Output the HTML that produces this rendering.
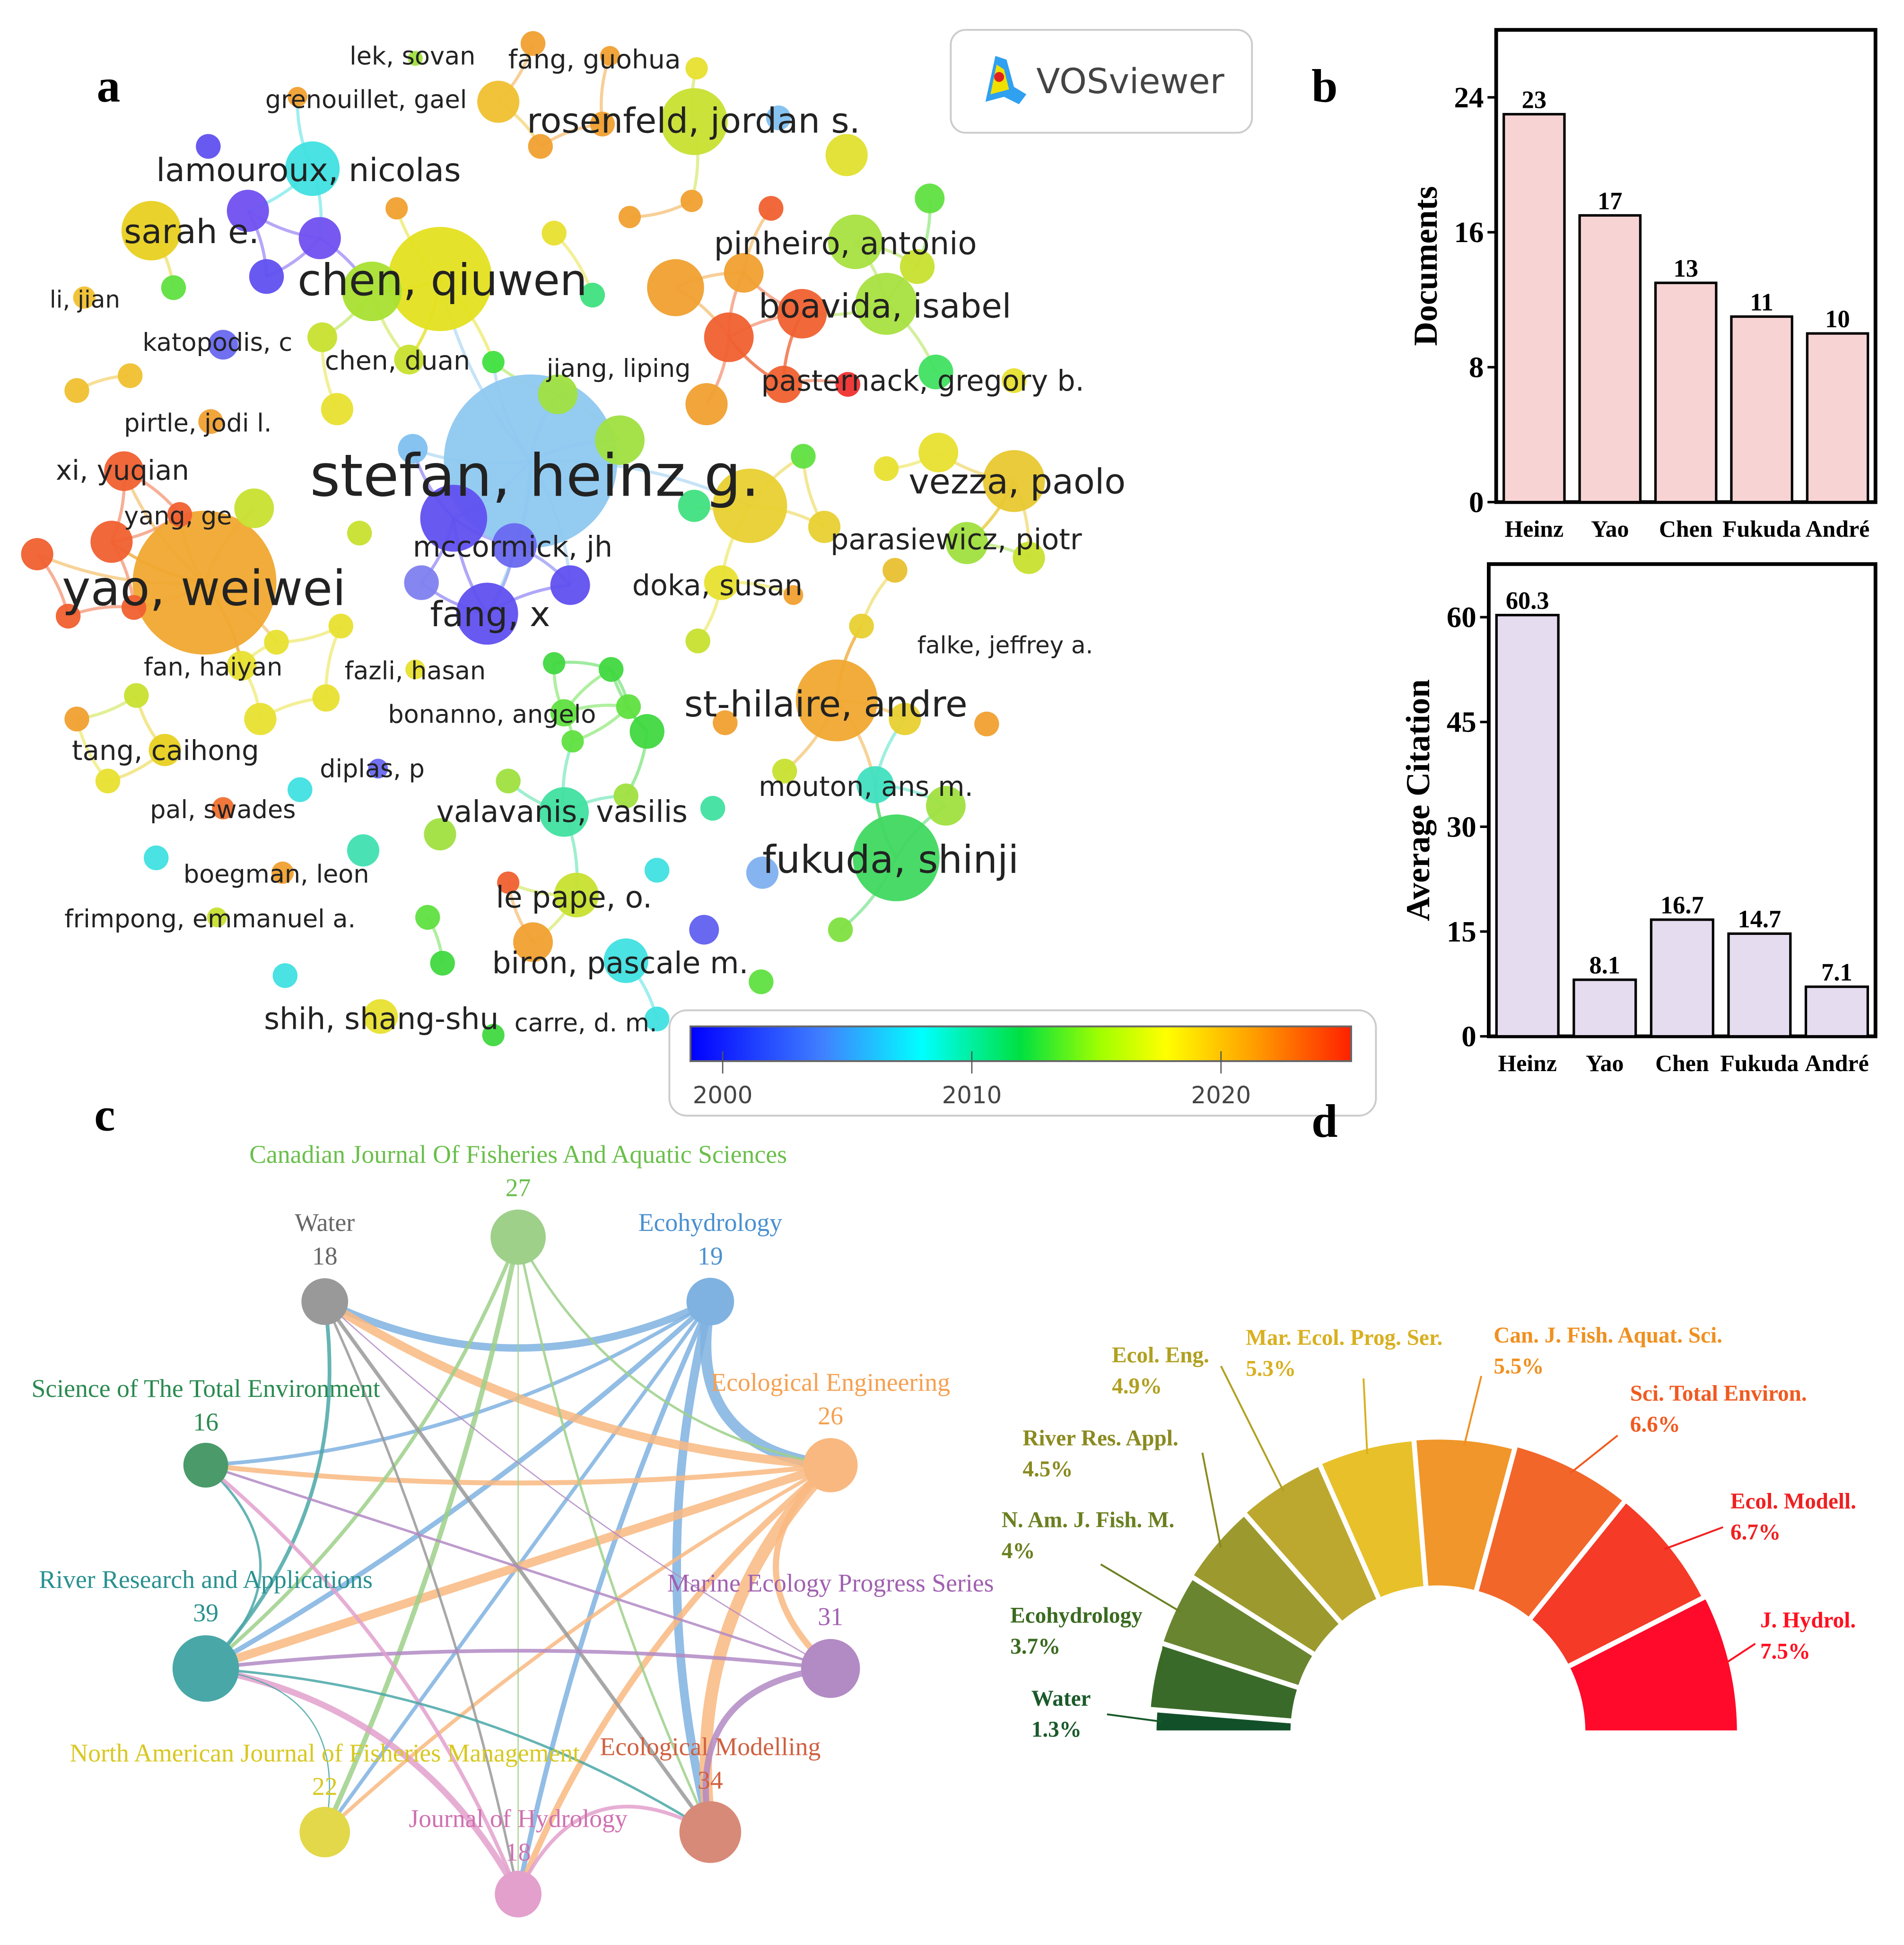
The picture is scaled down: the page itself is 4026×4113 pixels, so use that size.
<!DOCTYPE html>
<html><head><meta charset="utf-8">
<style>
html,body{margin:0;padding:0;background:#fff;}
svg{display:block;}
.sans{font-family:"DejaVu Sans","Liberation Sans",sans-serif;}
.serif{font-family:"Liberation Serif",serif;}
</style></head>
<body>
<svg id="root" width="4026" height="4113" viewBox="0 0 1536 1569" xmlns="http://www.w3.org/2000/svg">
<defs>
<linearGradient id="cb" x1="0" x2="1" y1="0" y2="0">
<stop offset="0" stop-color="#0000ff"/><stop offset="0.2" stop-color="#4080ff"/><stop offset="0.35" stop-color="#00ffff"/><stop offset="0.5" stop-color="#00e040"/><stop offset="0.62" stop-color="#a0ff00"/><stop offset="0.72" stop-color="#ffff00"/><stop offset="0.85" stop-color="#ffa000"/><stop offset="1" stop-color="#ff2000"/>
</linearGradient>
</defs>
<g id="net"></g>
<g id="netlab"></g>
<g>
<rect x="767" y="24" width="243" height="83" rx="12" fill="#fff" stroke="#ccc" stroke-width="1.5"/>
<path d="M795 82 L803 45 L812 48 L818 70 L828 76 L822 84 L810 78 Z" fill="#30a0f0"/>
<path d="M799 76 L804 52 L810 56 L814 72 Z" fill="#f0e000"/>
<circle cx="806" cy="62" r="4" fill="#e02020"/>
<text x="836" y="75" class="sans" font-size="28" fill="#444">VOSviewer</text>
</g>
<g>
<rect x="540" y="815" width="570" height="85" rx="14" fill="#fff" stroke="#ccc" stroke-width="1.5"/>
<rect x="557" y="828" width="533" height="28" fill="url(#cb)" stroke="#666" stroke-width="1.5"/>
<line x1="583" y1="848" x2="583" y2="866" stroke="#555"/><line x1="784" y1="848" x2="784" y2="866" stroke="#555"/><line x1="985" y1="848" x2="985" y2="866" stroke="#555"/>
<text x="583" y="890" text-anchor="middle" class="sans" font-size="19" fill="#444">2000</text>
<text x="784" y="890" text-anchor="middle" class="sans" font-size="19" fill="#444">2010</text>
<text x="985" y="890" text-anchor="middle" class="sans" font-size="19" fill="#444">2020</text>
</g>
<g id="bars1"></g>
<g id="bars2"></g>
<g id="chord"></g>
<g id="donut"></g>
<g class="serif" font-weight="bold" font-size="38">
<text x="78" y="82">a</text>
<text x="1058" y="82">b</text>
<text x="76" y="912">c</text>
<text x="1058" y="917">d</text>
</g>
</svg>
<script>
const NS="http://www.w3.org/2000/svg";
function mk(tag,attrs,parent){const e=document.createElementNS(NS,tag);for(const k in attrs)e.setAttribute(k,attrs[k]);parent.appendChild(e);return e;}

// ---------- Panel b data ----------
const authors=["Heinz","Yao","Chen","Fukuda","André"];
const documents=[23,17,13,11,10];
const avgCitation=[60.3,8.1,16.7,14.7,7.1];
const docTicks=[0,8,16,24];
const citTicks=[0,15,30,45,60];

function barChart(g,vals,ticks,vmax,box,fill,ylabel,fmt){
  const [x0,y0,x1,y1]=box;
  const ys=v=>y1-(v/vmax)*(y1-y0);
  const r=mk('rect',{x:x0,y:y0,width:x1-x0,height:y1-y0,fill:'none',stroke:'#000','stroke-width':3},g);
  
  
  ticks.forEach(t=>{
    const l=mk('line',{x1:x0-7,x2:x0,y1:ys(t),y2:ys(t),stroke:'#000','stroke-width':2},g);
    
    
    const tx=mk('text',{x:x0-10,y:ys(t)+8,'text-anchor':'end','font-size':24,'font-weight':'bold','class':'serif'},g);
    tx.textContent=t;
    
    
  });
  const n=vals.length, step=(x1-x0)/n, bw=step*0.8;
  vals.forEach((v,i)=>{
    const bx=x0+step*i+(step-bw)/2;
    const b=mk('rect',{x:bx,y:ys(v),width:bw,height:y1-ys(v),fill:fill,stroke:'#000','stroke-width':2},g);
    
    
    const vt=mk('text',{x:bx+bw/2,y:ys(v)-5,'text-anchor':'middle','font-size':20,'font-weight':'bold','class':'serif'},g);
    vt.textContent=fmt(v);
    
    
    const ct=mk('text',{x:bx+bw/2,y:y1+28,'text-anchor':'middle','font-size':19,'font-weight':'bold','class':'serif'},g);
    ct.textContent=authors[i];
    
    
  });
  const cy=(y0+y1)/2;
  const yl=mk('text',{x:0,y:0,transform:`translate(${x0-48},${cy}) rotate(-90)`,'text-anchor':'middle','font-size':27,'font-weight':'bold','class':'serif'},g);
  yl.textContent=ylabel;
  
  
}
barChart(document.getElementById('bars1'),documents,docTicks,28,[1207,24,1513,405],'#f7d3d3','Documents',v=>v);
barChart(document.getElementById('bars2'),avgCitation,citTicks,67.6,[1201,455,1513,836],'#e5dcef','Average Citation',v=>v.toFixed(1));

// ---------- Panel c ----------
const journals=["Canadian Journal Of Fisheries And Aquatic Sciences","Water","Ecohydrology","Science of The Total Environment","Ecological Engineering","River Research and Applications","Marine Ecology Progress Series","North American Journal of Fisheries Management","Ecological Modelling","Journal of Hydrology"];
const journalCounts=[27,18,19,16,26,39,31,22,34,18];
const jColors=['#9ed08a','#999999','#7fb2e0','#4a9a6a','#f9b880','#4aa7a7','#b28ac4','#e3d84a','#d88a78','#e3a0cc'];
const jTextColors=['#6abf4b','#666666','#4a90d0','#2a8a50','#f5a050','#2a9090','#a060b0','#d8c820','#d06040','#d070b0'];
const jPos=[[418,998],[262,1050],[573,1050],[166,1182],[670,1182],[166,1346],[670,1346],[262,1478],[573,1478],[418,1528]];
const jLabPos=[[418,938],[262,993],[573,993],[166,1127],[670,1122],[166,1281],[670,1284],[262,1421],[573,1416],[418,1474]];
const links=[[2,1,6],[2,3,3],[2,5,4],[2,7,3],[2,8,7],[2,4,9],[2,9,4],
[4,1,7],[4,3,4],[4,5,7],[4,7,3],[4,8,10],[4,9,5],[4,6,5],
[0,7,4],[0,5,3],[0,8,2],[0,4,2],[0,9,1],
[5,3,2],[5,1,3],[1,8,3],[1,9,2],
[6,5,3],[6,3,2],[6,1,1],[6,8,5],
[9,5,5],[9,3,3],[9,8,3],[5,7,1],[5,8,2]];
const chord=document.getElementById('chord');
const ccx=418, ccy=1264;
links.forEach(([a,b,w])=>{
  const A=jPos[a],B=jPos[b];
  const mx=(A[0]+B[0])/2, my=(A[1]+B[1])/2;
  const qx=mx+(ccx-mx)*0.35, qy=my+(ccy-my)*0.35;
  const p=mk('path',{d:`M${A[0]} ${A[1]} Q${qx} ${qy} ${B[0]} ${B[1]}`,fill:'none',stroke:jColors[a],'stroke-width':w,opacity:0.85},chord);
  
  
});
jPos.forEach((p,i)=>{
  const r=12+journalCounts[i]*0.38;
  const c=mk('circle',{cx:p[0],cy:p[1],r:r,fill:jColors[i]},chord);
  
  
  const lp=jLabPos[i];
  const t=mk('text',{x:lp[0],y:lp[1],'text-anchor':'middle','font-size':20.5,'class':'serif',fill:jTextColors[i]},chord);
  t.textContent=journals[i];
  
  
  const t2=mk('text',{x:lp[0],y:lp[1]+27,'text-anchor':'middle','font-size':20.5,'class':'serif',fill:jTextColors[i]},chord);
  t2.textContent=journalCounts[i];
  
  
});

// ---------- Panel d ----------
const dNames=["Water","Ecohydrology","N. Am. J. Fish. M.","River Res. Appl.","Ecol. Eng.","Mar. Ecol. Prog. Ser.","Can. J. Fish. Aquat. Sci.","Sci. Total Environ.","Ecol. Modell.","J. Hydrol."];
const dPct=[1.3,3.7,4,4.5,4.9,5.3,5.5,6.6,6.7,7.5];
const dColors=['#12502a','#3a6a2a','#6a8530','#9c9a2e','#bca82e','#e8c02a','#f0962a','#f2662a','#f53a28','#ff0a2a'];
const dText=['#1a5a2a','#3a6a20','#6a8020','#8a8a20','#b0a020','#d8b020','#f09020','#f05a20','#f02020','#ff1020'];
const dLab=[[832,1376],[815,1309],[808,1232],[825,1166],[897,1099],[1005,1085],[1205,1083],[1315,1130],[1396,1217],[1420,1313]];
const dLeadStart=[[893,1383],[940,1314],[888,1262],[970,1172],[985,1102],[1100,1112],[1195,1110],[1305,1158],[1390,1232],[1416,1326]];
const donut=document.getElementById('donut');
const dcx=1160, dcy=1398, rin=117;
const total=dPct.reduce((a,b)=>a+b,0);
let ang=Math.PI;
dPct.forEach((v,i)=>{
  const da=v/total*Math.PI;
  const a0=ang, a1=ang-da;
  const rout=226+v*2.3;
  const P=(r,a)=>[dcx+r*Math.cos(a), dcy-r*Math.sin(a)];
  const [x0,y0]=P(rin,a0),[x1,y1]=P(rout,a0),[x2,y2]=P(rout,a1),[x3,y3]=P(rin,a1);
  const s=mk('path',{d:`M${x0} ${y0} L${x1} ${y1} A${rout} ${rout} 0 0 1 ${x2} ${y2} L${x3} ${y3} A${rin} ${rin} 0 0 0 ${x0} ${y0} Z`,fill:dColors[i],stroke:'#fff','stroke-width':4},donut);
  
  
  const am=(a0+a1)/2;
  const [mx,my]=P(rout-6,am);
  const [lx,ly]=dLeadStart[i];
  const ln=mk('polyline',{points:`${lx},${ly} ${mx},${my}`,fill:'none',stroke:dText[i],'stroke-width':1.5},donut);
  
  
  const L=dLab[i];
  const t=mk('text',{x:L[0],y:L[1],'font-size':18,'font-weight':'bold','class':'serif',fill:dText[i]},donut);
  t.textContent=dNames[i];
  
  
  const t2=mk('text',{x:L[0],y:L[1]+25,'font-size':18,'font-weight':'bold','class':'serif',fill:dText[i]},donut);
  t2.textContent=v+'%';
  
  
  ang=a1;
});

// ---------- Panel a network ----------
const nodes=[
[428,372,70,'#8ec8f0'],[165,470,58,'#f0a830'],[355,225,42,'#e4e020'],[675,565,33,'#f0a830'],[723,692,35,'#40d860'],
[818,388,25,'#e8c830'],[560,98,27,'#c8e030'],[122,186,24,'#e8d020'],[252,136,22,'#40e0e0'],[690,195,22,'#a8e040'],
[715,245,25,'#a8e040'],[632,310,15,'#f06030'],[415,440,18,'#6868f0'],[393,495,25,'#6050f0'],[582,470,14,'#e8e030'],
[780,438,17,'#a0e040'],[695,505,10,'#e8d030'],[455,655,20,'#40e0a0'],[706,633,15,'#40e0c0'],[465,722,18,'#c8e030'],
[505,775,18,'#40e0e0'],[307,820,14,'#e8e030'],[530,822,10,'#40e0e0'],[228,704,9,'#f0a030'],[175,740,8,'#c8e030'],
[180,652,9,'#f07030'],[133,605,13,'#e8d020'],[305,620,8,'#6868f0'],[455,575,11,'#60e040'],[195,537,12,'#e8e030'],
[335,540,8,'#e8e030'],[100,380,16,'#f06030'],[145,415,10,'#f06030'],[170,340,10,'#f0a030'],[180,278,12,'#6868f0'],
[68,240,9,'#f0c030'],[330,290,12,'#c8e030'],[450,318,16,'#a0e040'],[335,47,6,'#a0e040'],[430,35,10,'#f0a030'],
[240,78,8,'#f0a030'],[30,447,13,'#f06030'],[90,437,17,'#f06030'],[55,497,10,'#f06030'],[108,490,10,'#f06030'],
[605,408,30,'#e8d030'],[500,355,20,'#a0e040'],[366,418,27,'#6050f0'],[545,232,23,'#f0a030'],[588,272,20,'#f06030'],
[647,253,20,'#f06030'],[600,220,16,'#f0a030'],[570,326,17,'#f0a030'],[258,192,17,'#7050f0'],[200,170,17,'#7050f0'],
[215,223,14,'#6050f0'],[300,235,24,'#a8e030'],[402,82,17,'#f0c030'],[683,125,17,'#e0e030'],[628,95,10,'#80c0f0'],
[168,118,10,'#6050f0'],[460,472,16,'#6050f0'],[340,470,14,'#8080f0'],[333,362,12,'#80c0f0'],[522,590,14,'#40d840'],
[410,630,10,'#a0e040'],[505,642,10,'#a0e040'],[575,652,10,'#40e0a0'],[763,650,16,'#a0e040'],[615,704,13,'#80b0f0'],
[568,750,12,'#6060f0'],[678,750,10,'#80e040'],[614,792,10,'#60e040'],[530,702,10,'#40e0e0'],[430,760,16,'#f0a030'],
[410,712,9,'#f06030'],[345,740,10,'#60e040'],[357,777,10,'#40d840'],[398,835,9,'#40d840'],[230,787,10,'#40e0e0'],
[293,686,13,'#40e0b0'],[126,692,10,'#40e0e0'],[242,637,10,'#40e0e0'],[355,673,13,'#a0e040'],[210,580,13,'#e8e030'],
[263,563,11,'#e8e030'],[275,505,10,'#e8e030'],[223,518,10,'#e8e030'],[205,410,16,'#c8e030'],[290,430,10,'#c8e030'],
[272,330,13,'#e8e030'],[62,315,10,'#f0c030'],[105,303,10,'#f0c030'],[140,232,10,'#60e040'],[447,188,10,'#e8e030'],
[478,238,10,'#40e080'],[398,292,9,'#40e040'],[757,365,16,'#e8e030'],[715,378,10,'#e8e030'],[830,450,13,'#c8e030'],
[665,425,13,'#e8d030'],[722,460,10,'#e8c030'],[648,368,10,'#60e040'],[640,480,8,'#f0a030'],[563,517,10,'#c8e030'],
[585,583,10,'#f0a030'],[730,580,13,'#e8d030'],[796,584,10,'#f0a030'],[633,622,10,'#c8e030'],[750,160,12,'#60e040'],
[740,215,14,'#c8e030'],[755,300,14,'#40e060'],[684,310,10,'#f03030'],[818,307,10,'#e8e030'],[558,162,9,'#f0a030'],
[622,168,10,'#f06030'],[508,175,9,'#f0a030'],[320,168,9,'#f0a030'],[436,118,10,'#f0a030'],[486,100,10,'#f0a030'],
[562,55,9,'#e8e030'],[260,272,12,'#c8e030'],[560,408,13,'#40e080'],[447,535,9,'#40d840'],[493,540,10,'#40d840'],
[507,570,10,'#60e040'],[462,598,9,'#60e040'],[87,630,10,'#e8e030'],[110,561,10,'#c8e030'],[62,580,10,'#f0a030'],
[492,45,8,'#f0a030']
];
const net=document.getElementById('net');
const edges=[];
nodes.forEach((A,i)=>nodes.forEach((B,j)=>{
  if(j<=i)return;
  const d=Math.hypot(A[0]-B[0],A[1]-B[1]);
  if(d<Math.max(60,A[2]+B[2]+30))edges.push([i,j]);
}));
[[0,12],[0,13],[0,47],[0,46],[0,37],[0,2],[0,45],[1,31],[1,42],[1,41],[1,29],[2,56],[2,36],[4,18],[3,16],[5,15],[11,49],[11,50]].forEach(e=>edges.push(e));
edges.forEach(([a,b])=>{
  const A=nodes[a],B=nodes[b];
  if(!A||!B)return;
  const mx=(A[0]+B[0])/2+(B[1]-A[1])*0.12, my=(A[1]+B[1])/2-(B[0]-A[0])*0.12;
  const p=mk('path',{d:`M${A[0]} ${A[1]} Q${mx} ${my} ${B[0]} ${B[1]}`,fill:'none',stroke:A[3],'stroke-width':2.5,opacity:0.5},net);
  
  
});
nodes.forEach(n=>{
  const c=mk('circle',{cx:n[0],cy:n[1],r:n[2],fill:n[3],opacity:0.95},net);
  
  
});
const netLabels=[
["stefan, heinz g.",250,400,47],["yao, weiwei",50,488,39],["chen, qiuwen",240,238,35],["st-hilaire, andre",552,578,29],
["fukuda, shinji",615,704,31],["vezza, paolo",733,398,28],["rosenfeld, jordan s.",425,107,28],["sarah e.",100,196,27],
["lamouroux, nicolas",126,146,26],["pinheiro, antonio",576,205,25],["boavida, isabel",612,256,27],["pasternack, gregory b.",614,315,23],
["mccormick, jh",333,449,23],["fang, x",347,505,28],["doka, susan",510,480,23],["parasiewicz, piotr",670,443,23],
["falke, jeffrey a.",740,527,19],["valavanis, vasilis",352,663,24],["mouton, ans m.",612,642,22],["le pape, o.",400,732,24],
["biron, pascale m.",397,785,24],["shih, shang-shu",213,830,24],["carre, d. m.",415,832,20],["boegman, leon",148,712,20],
["frimpong, emmanuel a.",52,748,20],["pal, swades",121,660,20],["tang, caihong",58,613,22],["diplas, p",258,627,20],
["bonanno, angelo",313,583,20],["fan, haiyan",116,545,20],["fazli, hasan",278,548,20],["xi, yuqian",45,387,22],
["yang, ge",100,423,20],["pirtle, jodi l.",100,348,20],["katopodis, c",115,283,20],["li, jian",40,248,19],
["chen, duan",262,298,21],["jiang, liping",441,304,20],["lek, sovan",282,52,20],["fang, guohua",410,55,21],["grenouillet, gael",214,87,20]];
const nl=document.getElementById('netlab');
netLabels.forEach(l=>{
  const t=mk('text',{x:l[1],y:l[2],'font-size':l[3],'class':'sans',fill:'#222'},nl);
  t.textContent=l[0];
  
  
});
</script>
</body></html>
